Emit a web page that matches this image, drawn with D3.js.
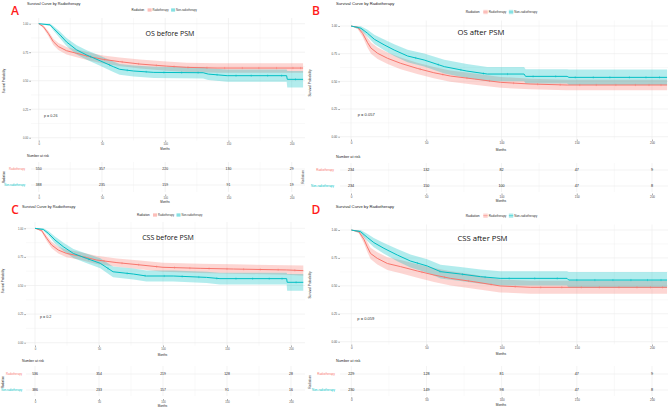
<!DOCTYPE html>
<html>
<head>
<meta charset="utf-8">
<script src="https://cdn.jsdelivr.net/npm/d3@7"></script>
<style>
body { margin: 0; background: #fff; }
svg { display: block; }
text { font-family: "Liberation Sans", Arial, sans-serif; }
</style>
</head>
<body>
<svg id="chart" width="668" height="408"></svg>
<script>
// ---- data ----
var months = [0, 50, 100, 150, 200];
var survTicks = [0, 0.25, 0.5, 0.75, 1];
var groups = ["Radiotherapy", "Non-radiotherapy"];
var groupColors = ["#F8766D", "#00BFC4"];
var panelLetters = ["A", "B", "C", "D"];
var panelLabels = ["OS before PSM", "OS after PSM", "CSS before PSM", "CSS after PSM"];
var pValues = ["p = 0.26", "p = 0.057", "p = 0.2", "p = 0.059"];

// rows: [month, survival, lower CI, upper CI]
var osBeforeRadio = [[0,1,1,1],[3.7,0.974,0.96,0.986],[7.6,0.915,0.893,0.936],[11.6,0.842,0.814,0.869],
  [15.5,0.80,0.769,0.83],[22,0.763,0.73,0.795],[30,0.74,0.706,0.773],[40.6,0.71,0.675,0.745],
  [51,0.687,0.65,0.722],[64,0.667,0.629,0.704],[80,0.646,0.607,0.685],[101,0.628,0.588,0.668],
  [117,0.617,0.576,0.658],[141,0.611,0.57,0.652],[209,0.611,0.57,0.652]];
var osBeforeNon = [[0,1,1,1],[9,0.99,0.98,1],[11.6,0.96,0.94,0.98],[17,0.90,0.87,0.93],
  [22,0.84,0.805,0.875],[30,0.77,0.73,0.81],[38,0.725,0.683,0.767],[48.5,0.675,0.631,0.719],
  [59,0.623,0.577,0.669],[64,0.60,0.553,0.647],[75,0.585,0.537,0.633],[91,0.573,0.524,0.622],
  [130,0.57,0.52,0.62],[134,0.558,0.507,0.609],[149,0.544,0.49,0.598],[196,0.544,0.49,0.598],
  [196.5,0.512,0.44,0.585],[209,0.512,0.44,0.585]];
var osAfterRadio = [[0,1,1,1],[4.4,0.988,0.974,1],[7.7,0.934,0.902,0.966],[11,0.85,0.804,0.896],
  [13.3,0.80,0.749,0.851],[17.7,0.753,0.701,0.805],[24.3,0.708,0.656,0.76],[33,0.663,0.61,0.716],
  [44,0.617,0.566,0.668],[55,0.578,0.527,0.629],[66,0.548,0.497,0.599],[82,0.521,0.47,0.572],
  [99.4,0.491,0.442,0.54],[119,0.476,0.428,0.524],[143.6,0.467,0.42,0.515],[210,0.467,0.42,0.515]];
var osAfterNon = [[0,1,1,1],[6.6,0.98,0.962,0.998],[11,0.934,0.902,0.966],[15.5,0.88,0.838,0.922],
  [22,0.83,0.782,0.878],[28.7,0.783,0.73,0.836],[37.6,0.729,0.672,0.786],[48.6,0.693,0.634,0.752],
  [62,0.633,0.571,0.695],[77,0.593,0.53,0.656],[90.6,0.566,0.502,0.63],[115,0.566,0.502,0.63],
  [116,0.545,0.48,0.61],[143.6,0.545,0.48,0.61],[144.8,0.536,0.468,0.606],[210,0.536,0.468,0.606]];
var cssBeforeRadio = [[0,1,1,1],[5.2,0.98,0.968,0.992],[9.1,0.913,0.89,0.936],[13,0.854,0.826,0.882],
  [18.2,0.81,0.779,0.841],[24.7,0.78,0.747,0.813],[35,0.758,0.724,0.792],[48,0.723,0.687,0.759],
  [64,0.70,0.663,0.737],[82,0.68,0.642,0.718],[100,0.659,0.62,0.698],[129,0.65,0.61,0.69],
  [155,0.644,0.603,0.685],[196.6,0.636,0.594,0.678],[209.6,0.63,0.586,0.674]];
var cssBeforeNon = [[0,1,1,1],[6.5,0.99,0.98,1],[10.4,0.956,0.936,0.976],[15.6,0.898,0.868,0.928],
  [22,0.84,0.804,0.876],[30,0.78,0.74,0.82],[40,0.738,0.696,0.78],[51,0.694,0.65,0.738],
  [61,0.62,0.573,0.667],[77,0.60,0.552,0.648],[87,0.583,0.534,0.632],[108,0.583,0.534,0.632],
  [134,0.571,0.521,0.621],[144.5,0.56,0.508,0.612],[196.6,0.56,0.508,0.612],
  [197,0.528,0.455,0.60],[209.6,0.528,0.455,0.60]];
var cssAfterRadio = [[0,1,1,1],[5,0.985,0.97,1],[8.4,0.916,0.882,0.95],[10.6,0.85,0.805,0.895],
  [12.8,0.79,0.74,0.84],[17.3,0.746,0.692,0.8],[24,0.70,0.643,0.757],[32.8,0.672,0.613,0.731],
  [43.9,0.633,0.572,0.694],[55,0.597,0.535,0.659],[66,0.567,0.504,0.63],[81.5,0.537,0.473,0.601],
  [99,0.499,0.441,0.557],[119,0.487,0.43,0.545],[210,0.487,0.43,0.545]];
var cssAfterNon = [[0,1,1,1],[6.2,0.985,0.968,1],[10.6,0.934,0.902,0.966],[15,0.887,0.845,0.929],
  [21.7,0.836,0.788,0.884],[30.6,0.776,0.721,0.831],[39.4,0.722,0.664,0.78],[50.5,0.678,0.618,0.738],
  [59.4,0.627,0.565,0.689],[72.6,0.606,0.543,0.669],[86,0.582,0.518,0.646],[99,0.567,0.503,0.631],
  [143.5,0.567,0.503,0.631],[144.6,0.552,0.48,0.625],[210,0.552,0.48,0.625]];

// censoring times (months)
var censorOsBeforeRadio = [38, 52, 66, 79, 93, 107, 118, 133, 147, 161, 174, 188, 201, 207];
var censorOsBeforeNon = [41, 56, 70, 85, 99, 113, 126, 141, 156, 168, 181, 192, 203];
var censorOsAfterRadio = [46, 61, 77, 92, 108, 124, 139, 152, 163, 176, 189, 198, 206];
var censorOsAfterNon = [43, 58, 73, 88, 104, 121, 136, 149, 161, 172, 185, 196, 205];
var censorCssBeforeRadio = [39, 54, 68, 81, 95, 109, 121, 136, 150, 163, 176, 190, 203];
var censorCssBeforeNon = [42, 57, 72, 86, 101, 115, 128, 142, 157, 170, 183, 193, 204];
var censorCssAfterRadio = [47, 62, 78, 93, 109, 126, 140, 153, 165, 178, 190, 199, 207];
var censorCssAfterNon = [44, 59, 74, 89, 105, 122, 137, 150, 162, 174, 186, 197, 206];

// number at risk at 0, 50, 100, 150, 200 months
var riskOsBefore = [[550, 357, 220, 130, 29], [388, 235, 159, 91, 19]];
var riskOsAfter = [[234, 132, 82, 47, 9], [234, 150, 100, 47, 8]];
var riskCssBefore = [[536, 354, 219, 128, 28], [386, 233, 157, 91, 16]];
var riskCssAfter = [[229, 128, 81, 47, 9], [230, 149, 98, 47, 8]];

var curves = [[osBeforeRadio, osBeforeNon], [osAfterRadio, osAfterNon],
              [cssBeforeRadio, cssBeforeNon], [cssAfterRadio, cssAfterNon]];
var censors = [[censorOsBeforeRadio, censorOsBeforeNon], [censorOsAfterRadio, censorOsAfterNon],
               [censorCssBeforeRadio, censorCssBeforeNon], [censorCssAfterRadio, censorCssAfterNon]];
var risks = [riskOsBefore, riskOsAfter, riskCssBefore, riskCssAfter];

// ---- panel placement (the figure is a collage of four differently scaled plots) ----
var layouts = [
  {x0: 38.7, x200: 291.7, left: 31, right: 305, y1: 23.7, y0: 137.7, top: 18, axisY: 140.5, fs: 1,
   letter: [15, 11], title: [27, 3.5], leg: [131.6, 10], lab: [170, 34], p: [44, 116], monthsY: 149,
   yTitle: [4, 81], nar: [27, 156], rows: [169, 185], riskLabR: 25, riskTop: 162, riskBot: 192,
   riskAxisY: 194.5, riskMonthsY: 201.5, rad: [4, 177]},
  {x0: 351, x200: 652, left: 340, right: 668, y1: 26, y0: 136.7, top: 20.5, axisY: 139.5, fs: 1.1,
   letter: [316, 11], title: [336, 3.5], leg: [465.7, 12], lab: [481, 32], p: [357.7, 115], monthsY: 149.5,
   yTitle: [310, 83], nar: [336, 157], rows: [170, 186], riskLabR: 334, riskTop: 163, riskBot: 192,
   riskAxisY: 193.5, riskMonthsY: 200.5, rad: [303, 177]},
  {x0: 35, x200: 291, left: 26, right: 305, y1: 228.3, y0: 342.7, top: 222, axisY: 345.5, fs: 1,
   letter: [15, 209.5], title: [22, 206.7], leg: [137, 215], lab: [168, 238], p: [40, 316.7], monthsY: 355,
   yTitle: [3, 281], nar: [22, 360.7], rows: [374, 390], riskLabR: 22, riskTop: 366, riskBot: 396,
   riskAxisY: 399, riskMonthsY: 406, rad: [3, 382]},
  {x0: 351.3, x200: 652, left: 340, right: 668, y1: 230, y0: 341.7, top: 224.5, axisY: 344.5, fs: 1.1,
   letter: [316, 209.5], title: [335.7, 206.7], leg: [465.7, 215.7], lab: [482.5, 238.3], p: [357.3, 319], monthsY: 354,
   yTitle: [310, 285], nar: [336, 361], rows: [374, 390], riskLabR: 335, riskTop: 366, riskBot: 396,
   riskAxisY: 397, riskMonthsY: 405, rad: [310, 382]}
];

var svg = d3.select("#chart");
var gridCol = "#ebebeb";
var textCol = "#4d4d4d";

var valueAt = function(rows, t) {
    var i = d3.bisector(function(d) { return d[0]; }).right(rows, t) - 1;
    if (i >= rows.length - 1) return rows[rows.length - 1][1];
    var a = rows[i], b = rows[i + 1];
    return a[1] + (b[1] - a[1]) * (t - a[0]) / (b[0] - a[0]);
}

var label = function(g, x, y, txt, size, opts) {
    opts = opts || {};
    var t = g.append("text")
        .attr("x", x).attr("y", y)
        .attr("dy", "0.35em")
        .attr("font-size", size)
        .attr("fill", opts.fill || textCol)
        .attr("text-anchor", opts.anchor || "start")
        .text(txt);
    if (opts.rotate) t.attr("transform", "rotate(-90," + x + "," + y + ")");
    if (opts.weight) t.attr("font-weight", opts.weight);
    if (opts.family) t.style("font-family", opts.family);
    return t;
}

var drawPanel = function(L, k) {
    var g = svg.append("g");
    var fs = L.fs;
    var x = d3.scaleLinear().domain([0, 200]).range([L.x0, L.x200]);
    var y = d3.scaleLinear().domain([0, 1]).range([L.y0, L.y1]);
    var bottom = L.y0 + (L.y1 - L.top) * 0.5;
    var minorX = d3.pairs(months).map(function(p) { return (p[0] + p[1]) / 2; });
    var minorY = d3.pairs(survTicks).map(function(p) { return (p[0] + p[1]) / 2; });

    // grid of the survival panel
    var grid = g.append("g").attr("fill", "none");
    grid.selectAll("line.mx").data(minorX).enter().append("line")
        .attr("x1", x).attr("x2", x).attr("y1", L.top).attr("y2", bottom)
        .attr("stroke", gridCol).attr("stroke-width", 0.3);
    grid.selectAll("line.my").data(minorY).enter().append("line")
        .attr("x1", L.left).attr("x2", L.right).attr("y1", y).attr("y2", y)
        .attr("stroke", gridCol).attr("stroke-width", 0.3);
    grid.selectAll("line.gx").data(months).enter().append("line")
        .attr("x1", x).attr("x2", x).attr("y1", L.top).attr("y2", bottom)
        .attr("stroke", gridCol).attr("stroke-width", 0.6);
    grid.selectAll("line.gy").data(survTicks).enter().append("line")
        .attr("x1", L.left).attr("x2", L.right).attr("y1", y).attr("y2", y)
        .attr("stroke", gridCol).attr("stroke-width", 0.6);

    // confidence bands, then curves
    var area = d3.area()
        .x(function(d) { return x(d[0]); })
        .y0(function(d) { return y(d[2]); })
        .y1(function(d) { return y(d[3]); });
    var line = d3.line()
        .x(function(d) { return x(d[0]); })
        .y(function(d) { return y(d[1]); });
    curves[k].forEach(function(rows, j) {
        g.append("path").datum(rows).attr("d", area)
            .attr("fill", groupColors[j]).attr("fill-opacity", 0.3);
    });
    curves[k].forEach(function(rows, j) {
        g.append("path").datum(rows).attr("d", line)
            .attr("fill", "none").attr("stroke", groupColors[j]).attr("stroke-width", 1);
        g.selectAll("line.c" + j).data(censors[k][j]).enter().append("line")
            .attr("x1", x).attr("x2", x)
            .attr("y1", function(t) { return y(valueAt(rows, t)) - 1.1; })
            .attr("y2", function(t) { return y(valueAt(rows, t)) + 1.1; })
            .attr("stroke", groupColors[j]).attr("stroke-width", 0.45);
    });

    // axes
    var yAxis = g.append("g").attr("transform", "translate(" + L.left + ",0)")
        .call(d3.axisLeft(y).tickValues(survTicks).tickFormat(d3.format(".2f")).tickSize(1.8).tickPadding(1));
    var xAxis = g.append("g").attr("transform", "translate(0," + L.axisY + ")")
        .call(d3.axisBottom(x).tickValues(months).tickSize(1.5).tickPadding(0.8));
    [yAxis, xAxis].forEach(function(a) {
        a.select(".domain").remove();
        a.selectAll(".tick line").attr("stroke", "#333").attr("stroke-width", 0.4);
        a.selectAll(".tick text").attr("font-size", 2.7 * fs).attr("fill", textCol)
            .style("font-family", "Liberation Sans, Arial, sans-serif");
    });
    label(g, (L.left + L.right) / 2 - 3, L.monthsY, "Months", 2.9 * fs, {anchor: "middle", fill: "#222"});
    label(g, L.yTitle[0], L.yTitle[1], "Survival Probability", 2.9 * fs, {anchor: "middle", rotate: true, fill: "#222"});

    // titles and annotations
    label(g, L.title[0], L.title[1], "Survival Curve by Radiotherapy", 3.8 * fs, {fill: "#222"});
    label(g, L.letter[0], L.letter[1], panelLetters[k], 12, {anchor: "middle", fill: "#ff1a1a", weight: 600, family: "Open Sans, sans-serif"});
    label(g, L.lab[0], L.lab[1], panelLabels[k], 7 * fs, {anchor: "middle", fill: "#111", family: "Open Sans, sans-serif"});
    label(g, L.p[0], L.p[1], pValues[k], 3.7 * fs, {fill: "#333"});

    // legend
    var lg = g.append("g");
    var lx = L.leg[0];
    label(lg, lx, L.leg[1], "Radiation", 3 * fs, {fill: "#222"});
    lx += 16 * fs;
    groups.forEach(function(name, j) {
        var s = 4 * fs;
        lg.append("rect").attr("x", lx).attr("y", L.leg[1] - s / 2).attr("width", s).attr("height", s)
            .attr("fill", groupColors[j]).attr("fill-opacity", 0.3);
        lg.append("line").attr("x1", lx).attr("x2", lx + s).attr("y1", L.leg[1]).attr("y2", L.leg[1])
            .attr("stroke", groupColors[j]).attr("stroke-width", 0.5);
        var t = label(lg, lx + s + 1, L.leg[1], name, 2.7 * fs, {fill: "#333"});
        lx += s + 2 + t.node().getComputedTextLength() + 1.5;
    });

    // risk table
    var rt = g.append("g");
    label(rt, L.nar[0], L.nar[1], "Number at risk", 3.4 * fs, {fill: "#222"});
    rt.selectAll("line.rmx").data(minorX).enter().append("line")
        .attr("x1", x).attr("x2", x).attr("y1", L.riskTop).attr("y2", L.riskBot)
        .attr("stroke", gridCol).attr("stroke-width", 0.3);
    rt.selectAll("line.rgx").data(months).enter().append("line")
        .attr("x1", x).attr("x2", x).attr("y1", L.riskTop).attr("y2", L.riskBot)
        .attr("stroke", gridCol).attr("stroke-width", 0.6);
    rt.selectAll("line.rgy").data(L.rows).enter().append("line")
        .attr("x1", L.left).attr("x2", L.right).attr("y1", function(d) { return d; }).attr("y2", function(d) { return d; })
        .attr("stroke", gridCol).attr("stroke-width", 0.6);
    risks[k].forEach(function(counts, j) {
        label(rt, L.riskLabR, L.rows[j], groups[j], 2.7 * fs, {anchor: "end", fill: groupColors[j]});
        rt.selectAll("text.n" + j).data(counts).enter().append("text")
            .attr("x", function(d, i) { return x(months[i]); })
            .attr("y", L.rows[j]).attr("dy", "0.35em")
            .attr("text-anchor", "middle").attr("font-size", 3.4 * fs).attr("fill", "#222")
            .text(function(d) { return d; });
    });
    label(rt, L.rad[0], L.rad[1], "Radiation", 2.9 * fs, {anchor: "middle", rotate: true, fill: "#222"});
    var rAxis = rt.append("g").attr("transform", "translate(0," + L.riskAxisY + ")")
        .call(d3.axisBottom(x).tickValues(months).tickSize(1.5).tickPadding(0.8));
    rAxis.select(".domain").remove();
    rAxis.selectAll(".tick line").attr("stroke", "#333").attr("stroke-width", 0.4);
    rAxis.selectAll(".tick text").attr("font-size", 2.7 * fs).attr("fill", textCol)
        .style("font-family", "Liberation Sans, Arial, sans-serif");
    label(rt, (L.left + L.right) / 2 - 3, L.riskMonthsY, "Months", 2.9 * fs, {anchor: "middle", fill: "#222"});
}

layouts.forEach(drawPanel);
</script>
</body>
</html>
